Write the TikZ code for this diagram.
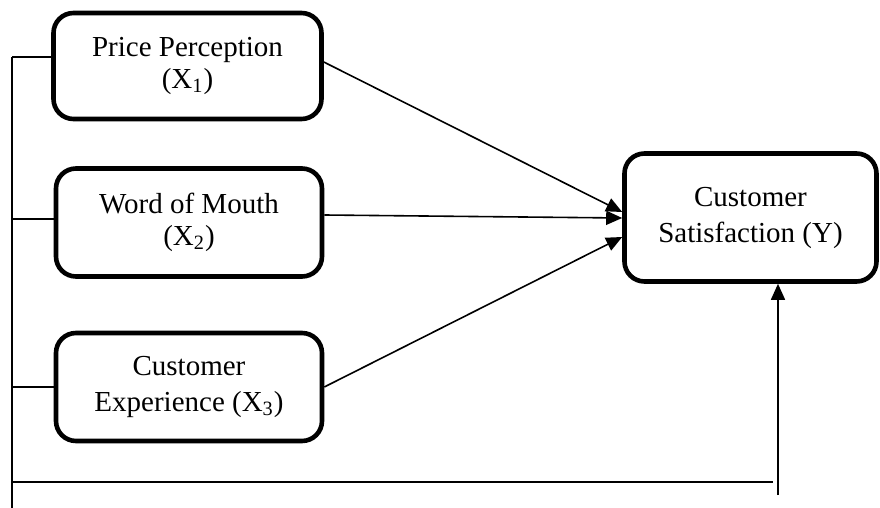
\documentclass[tikz,border=0pt]{standalone}
\usepackage{fontspec}
\setmainfont{Liberation Serif}
\usetikzlibrary{arrows.meta, positioning, calc}

\begin{document}
\begin{tikzpicture}[x=0.5pt, y=-0.5pt,
			var/.style={draw=black, line width=2.3pt, rounded corners=10pt, align=center, font=\fontsize{14.5}{16}\selectfont, inner sep=0pt},
			wide/.style={font=\fontsize{14.5}{18}\selectfont},
			arr/.style={-{Triangle[length=8pt,width=7pt]}, line width=0.8pt},
			link/.style={line width=0.8pt}]
			\useasboundingbox (0,0) rectangle (880,508);
			\node[var, minimum width=134pt, minimum height=53pt] (price) at (187.5,66) {Price Perception\\(X\textsubscript{1})};
			\node[var, minimum width=133pt, minimum height=54pt] (wom) at (189,222.5) {Word of Mouth\\(X\textsubscript{2})};
			\node[var, wide, minimum width=133pt, minimum height=54pt] (exp) at (189,387) {Customer\\Experience (X\textsubscript{3})};
			\node[var, wide, minimum width=126pt, minimum height=64pt] (sat) at (750.5,217.5) {Customer\\Satisfaction (Y)};
			\coordinate (rail) at (12,57);
			\coordinate (railend) at (12,508);
			\coordinate (fbline) at (773,482);
			\coordinate (fb) at (778,495);
			% left rail and ticks
			\draw[link] (rail) -- (railend);
			\draw[link] (rail) -- (rail -| price.west);
			\draw[link] ([yshift=1.75pt]wom.west) -- ([yshift=1.75pt]wom.west -| rail);
			\draw[link] (exp.west) -- (exp.west -| rail);
			\draw[link] (rail |- fbline) -- (fbline);
			% paths to Y
			\draw[arr] ([yshift=2pt]price.east) -- ([yshift=2.75pt]sat.west);
			\draw[arr] ([yshift=3.75pt]wom.east) -- ([yshift=-0.25pt]sat.west);
			\draw[arr] (exp.east) -- ([yshift=-9.75pt]sat.west);
			\draw[arr] (fb) -- (fb |- sat.south);
		\end{tikzpicture}
\end{document}
